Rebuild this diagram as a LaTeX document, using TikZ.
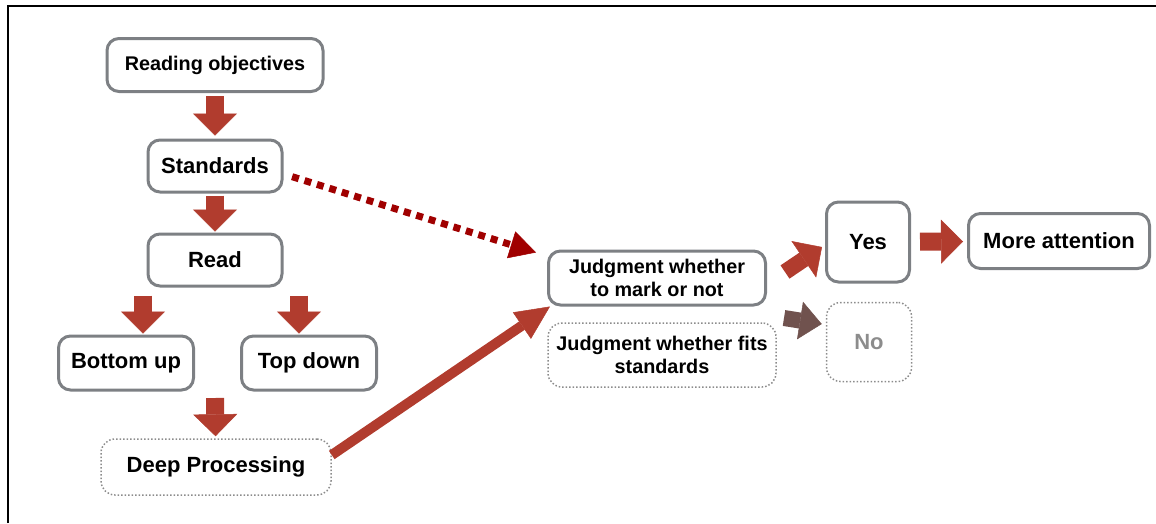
\documentclass[tikz,border=0pt]{standalone}
\usepackage{fontspec}
\setmainfont{Liberation Sans}
\usepackage[usenames,dvipsnames]{xcolor}
\usepackage{tikz}
\usetikzlibrary{arrows.meta,calc}

\definecolor{arrowred}{RGB}{177,60,46}
\definecolor{dotred}{RGB}{160,0,0}
\definecolor{arrowbrown}{RGB}{112,82,78}
\definecolor{boxgray}{RGB}{125,128,132}
\definecolor{dotgray}{RGB}{140,140,140}

\begin{document}
\begin{tikzpicture}[x=1pt,y=-1pt,
    font=\fontsize{22}{25}\selectfont\bfseries,
    smalltext/.style={font=\fontsize{19.8}{23}\selectfont\bfseries},
    box/.style={draw=boxgray,line width=3pt,rounded corners=12pt,fill=white,align=center,inner sep=0pt},
    dotbox/.style={draw=dotgray,line width=1.5pt,dash pattern=on 1.5pt off 2pt,rounded corners=14pt,align=center,inner sep=0pt},
    blk/.style={draw=arrowred,line width=18pt,-{Triangle[width=44pt,length=22pt,line width=0.5pt]},shorten <=3pt,shorten >=3pt},
    longblk/.style={draw=arrowred,line width=10pt,-{Triangle[width=32pt,length=34pt,line width=0.5pt]}},
    dotarrow/.style={draw=dotred,line width=7pt,dash pattern=on 7pt off 6pt,-{Triangle[width=28pt,length=26pt,line width=0.5pt]}},
    brownblk/.style={draw=arrowbrown,line width=16pt,-{Triangle[width=38pt,length=22pt,line width=0.5pt]}}]

   \useasboundingbox (0,0) rectangle (1156,523);
   \draw[line width=2pt] (8,523) -- (8,6) -- (1156,6);

   \draw (215,65) node (objectives) [box,smalltext,minimum width=216pt,minimum height=53pt] {Reading objectives};
   \draw (215,166) node (standards) [box,minimum width=134pt,minimum height=52pt] {Standards};
   \draw (215,260) node (read) [box,minimum width=134pt,minimum height=52pt] {Read};
   \draw (126,363) node (bottomup) [box,minimum width=135pt,minimum height=54pt] {Bottom up};
   \draw (309,363) node (topdown) [box,minimum width=135pt,minimum height=54pt] {Top down};
   \draw (216,467) node (deep) [dotbox,minimum width=230pt,minimum height=56pt] {Deep Processing};
   \draw (657,278) node (judgmark) [box,smalltext,minimum width=217pt,minimum height=54pt] {Judgment whether\\to mark or not};
   \draw (662,355) node (judgfits) [dotbox,smalltext,minimum width=228pt,minimum height=64pt] {Judgment whether fits\\standards};
   \draw (868,242) node (yes) [box,minimum width=83pt,minimum height=80pt] {Yes};
   \draw (869,342) node (no) [dotbox,text=dotgray,minimum width=85pt,minimum height=79pt] {No};
   \draw (1059,241) node (attention) [box,minimum width=181pt,minimum height=55pt] {More attention};
   \coordinate (split) at (215,398);

     \path (objectives) edge[blk] (standards);
     \path (standards) edge[blk,shorten <=2pt,shorten >=1pt] (read);
     \path ([xshift=-72pt]read.south) edge[blk,shorten <=8pt,shorten >=1pt] ([xshift=17pt]bottomup.north);
     \path ([xshift=84pt]read.south) edge[blk,shorten <=8pt,shorten >=1pt] ([xshift=-10pt]topdown.north);
     \path (split) edge[blk,shorten <=0pt,shorten >=2pt] (deep);
     \path ([yshift=12pt]deep.east) edge[longblk] ([xshift=3pt]judgmark.south west);
     \path ([yshift=-8pt]standards.east) edge[dotarrow,shorten <=9pt] ([xshift=-11pt,yshift=-3pt]judgmark.north west);
     \path ([xshift=18pt,yshift=6pt]judgmark.east) edge[blk,line width=16pt,shorten <=0pt,shorten >=0pt] ([xshift=-3pt,yshift=-5pt]yes.west);
     \path ([xshift=17pt,yshift=-40pt]judgmark.east) edge[brownblk] ([xshift=-4pt,yshift=18pt]no.west);
     \path (yes) edge[blk,shorten <=9pt,shorten >=4pt] (attention);

\end{tikzpicture}
\end{document}
